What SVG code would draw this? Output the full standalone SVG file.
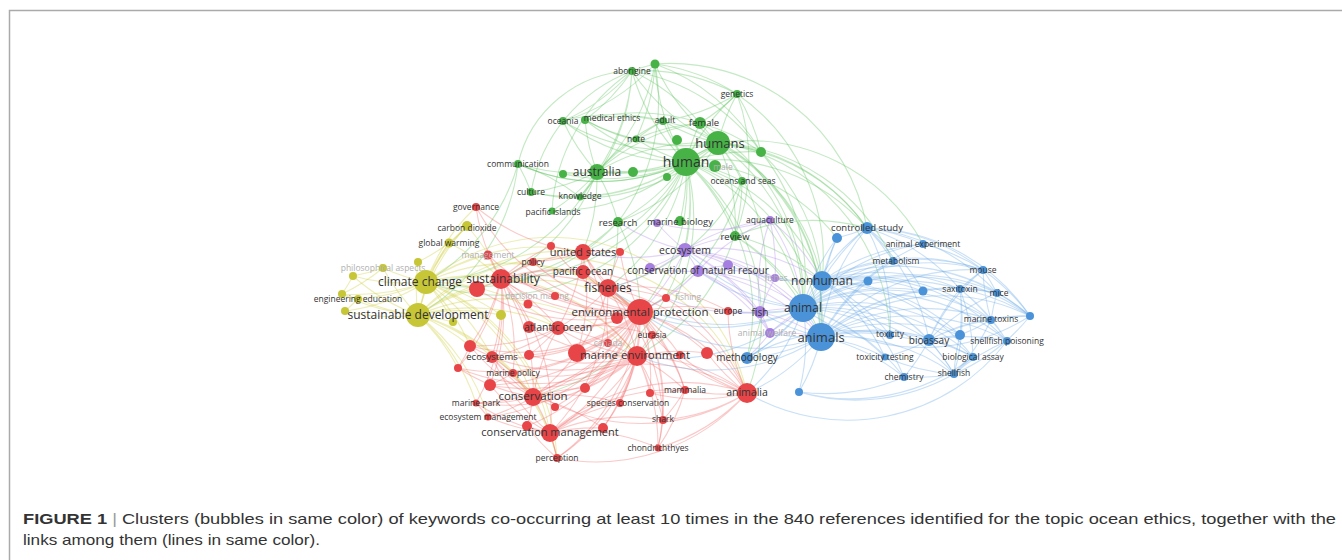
<svg xmlns="http://www.w3.org/2000/svg" width="1342" height="560" viewBox="0 0 1342 560">
<style>
.e path{fill:none;stroke-width:1.1;stroke-opacity:.36}
.eg path{stroke:#5cc25c}.er path{stroke:#f06868}.eb path{stroke:#6aa8e6}.ey path{stroke:#cccc3a}.ep path{stroke:#b08ae8}
.g circle{fill:#47b347}.r circle{fill:#e84548}.b circle{fill:#4b93d8}.y circle{fill:#c6c636}.p circle{fill:#a680e0}
text{font-family:"Open Sans","DejaVu Sans",sans-serif;fill:#333;text-anchor:middle}
.s{font-size:8.5px}.m{font-size:9.5px}.t10{font-size:10px}.t105{font-size:10.5px}.t11{font-size:11px}.t115{font-size:11.5px}.t12{font-size:12px}.t13{font-size:13px}.t14{font-size:14px}
.f{fill:#b0b0b0}
.cap{font-family:"Liberation Sans",Arial,sans-serif;font-size:15px;fill:#333;text-anchor:start}
</style>
<rect width="1342" height="560" fill="#fff"/>
<g id="frame" fill="none" stroke="#aaa" stroke-width="1.5">
<path d="M9.5 560V10.5H1342"/>
</g>
<g id="connectors" class="e">
<g class="eg">
<path d="M686 162A200 200 0 0 1 632 71M686 162A200 200 0 0 1 655 64M686 162A200 200 0 0 1 737 94M686 162A200 200 0 0 1 563 121M686 162A200 200 0 0 1 585 120M686 162A200 200 0 0 1 663 121M686 162A200 200 0 0 1 700 123M686 162A200 200 0 0 1 636 139M686 162A200 200 0 0 1 718 143M686 162A200 200 0 0 1 761 152M686 162A200 200 0 0 1 518 164M686 162A200 200 0 0 1 597 172M686 162A200 200 0 0 1 531 192M686 162A200 200 0 0 1 580 197M686 162A200 200 0 0 1 552 211M686 162A200 200 0 0 1 618 222M686 162A200 200 0 0 1 680 221M686 162A200 200 0 0 1 735 236M686 162A200 200 0 0 1 742 181M686 162A200 200 0 0 1 563 174M686 162A200 200 0 0 1 633 172M686 162A200 200 0 0 1 803 308M686 162A200 200 0 0 1 821 337M686 162A200 200 0 0 1 822 281M686 162A200 200 0 0 1 867 228M686 162A200 200 0 0 1 640 312M686 162A200 200 0 0 1 583 252M686 162A200 200 0 0 1 501 279M686 162A200 200 0 0 1 426 282M686 162A200 200 0 0 1 608 288M686 162A200 200 0 0 1 533 397M686 162A200 200 0 0 1 685 250M686 162A200 200 0 0 1 637 356M686 162A200 200 0 0 1 747 393M686 162A200 200 0 0 1 747 358M686 162A200 200 0 0 1 837 238"/>
<path d="M718 143A200 200 0 0 1 632 71M718 143A200 200 0 0 1 655 64M718 143A200 200 0 0 1 737 94M718 143A200 200 0 0 1 563 121M718 143A200 200 0 0 1 585 120M718 143A200 200 0 0 1 663 121M718 143A200 200 0 0 1 700 123M718 143A200 200 0 0 1 636 139M718 143A200 200 0 0 1 761 152M718 143A200 200 0 0 1 597 172M718 143A200 200 0 0 1 742 181M718 143A200 200 0 0 1 735 236M718 143A200 200 0 0 1 618 222M718 143A200 200 0 0 1 803 308M718 143A200 200 0 0 1 821 337M718 143A200 200 0 0 1 822 281M718 143A200 200 0 0 1 867 228M718 143A200 200 0 0 1 893 261M718 143A200 200 0 0 1 923 244M718 143A200 200 0 0 1 518 164M718 143A200 200 0 0 1 531 192M718 143A200 200 0 0 1 747 358M718 143A200 200 0 0 1 890 335"/>
<path d="M518 164A120 120 0 0 1 632 71M632 71A200 200 0 0 1 597 172M632 71A200 200 0 0 1 563 121M531 192A160 160 0 0 1 632 71M632 71A200 200 0 0 1 655 64M632 71A200 200 0 0 1 737 94M632 71A200 200 0 0 1 700 123M552 211A180 180 0 0 1 632 71M632 71A200 200 0 0 1 580 197M632 71A200 200 0 0 1 761 152M632 71A200 200 0 0 1 585 120M655 64A200 200 0 0 1 867 228M737 94A200 200 0 0 1 822 281"/>
<path d="M655 64A200 200 0 0 1 737 94M655 64A200 200 0 0 1 597 172M655 64A200 200 0 0 1 636 139M655 64A200 200 0 0 1 563 121M655 64A200 200 0 0 1 761 152M655 64A200 200 0 0 1 618 222"/>
<path d="M597 172A200 200 0 0 1 563 121M597 172A200 200 0 0 1 585 120M597 172A200 200 0 0 1 531 192M597 172A200 200 0 0 1 580 197M597 172A200 200 0 0 1 518 164M597 172A200 200 0 0 1 552 211M597 172A200 200 0 0 1 618 222M597 172A200 200 0 0 1 563 174M597 172A200 200 0 0 1 633 172M597 172A200 200 0 0 1 636 139M597 172A200 200 0 0 1 663 121M597 172A200 200 0 0 1 426 282M597 172A200 200 0 0 1 501 279M597 172A200 200 0 0 1 583 252M597 172A200 200 0 0 1 700 123M597 172A200 200 0 0 1 761 152"/>
<path d="M737 94A200 200 0 0 1 700 123M737 94A200 200 0 0 1 663 121M737 94A200 200 0 0 1 761 152M737 94A200 200 0 0 1 735 236M636 139A200 200 0 0 1 663 121M636 139A200 200 0 0 1 700 123M636 139A200 200 0 0 1 585 120M585 120A200 200 0 0 1 700 123M585 120A200 200 0 0 1 663 121M563 121A200 200 0 0 1 663 121"/>
<path d="M735 236A200 200 0 0 1 803 308M735 236A200 200 0 0 1 821 337M735 236A200 200 0 0 1 867 228M735 236A200 200 0 0 1 822 281M618 222A200 200 0 0 1 501 279M618 222A200 200 0 0 1 640 312M618 222A200 200 0 0 1 608 288M618 222A200 200 0 0 1 426 282M518 164A200 200 0 0 1 531 192M518 164A200 200 0 0 1 580 197M518 164A200 200 0 0 1 426 282M518 164A200 200 0 0 1 418 315M761 152A200 200 0 0 1 803 308M761 152A200 200 0 0 1 867 228M761 152A200 200 0 0 1 822 281M700 123A200 200 0 0 1 761 152M700 123A200 200 0 0 1 803 308M663 121A200 200 0 0 1 821 337M742 181A200 200 0 0 1 640 312M742 181A200 200 0 0 1 637 356M742 181A200 200 0 0 1 608 288"/>
</g>
<g class="ey">
<path d="M426 282A200 200 0 0 1 467 226M426 282A200 200 0 0 1 449 243M426 282A200 200 0 0 1 383 268M426 282A200 200 0 0 1 418 262M426 282A200 200 0 0 1 353 276M426 282A200 200 0 0 1 342 294M426 282A200 200 0 0 1 358 299M426 282A200 200 0 0 1 345 311M426 282A200 200 0 0 1 418 315M426 282A200 200 0 0 1 501 315M426 282A200 200 0 0 1 453 322M426 282A200 200 0 0 1 501 279M426 282A200 200 0 0 1 477 289M426 282A200 200 0 0 1 640 312M426 282A200 200 0 0 1 637 356M426 282A200 200 0 0 1 533 397M426 282A200 200 0 0 1 492 357M426 282A200 200 0 0 1 470 346M426 282A200 200 0 0 1 550 433M426 282A200 200 0 0 1 476 207M426 282A200 200 0 0 1 488 255M426 282A200 200 0 0 1 558 328M426 282A200 200 0 0 1 608 288M426 282A200 200 0 0 1 557 458M426 282A200 200 0 0 1 747 393M426 282A200 200 0 0 1 583 252"/>
<path d="M418 315A200 200 0 0 1 467 226M418 315A200 200 0 0 1 449 243M418 315A200 200 0 0 1 383 268M418 315A200 200 0 0 1 418 262M418 315A200 200 0 0 1 353 276M418 315A200 200 0 0 1 342 294M418 315A200 200 0 0 1 358 299M418 315A200 200 0 0 1 345 311M418 315A200 200 0 0 1 501 315M418 315A200 200 0 0 1 453 322M418 315A200 200 0 0 1 501 279M418 315A200 200 0 0 1 477 289M418 315A200 200 0 0 1 640 312M418 315A200 200 0 0 1 637 356M418 315A200 200 0 0 1 533 397M418 315A200 200 0 0 1 492 357M418 315A200 200 0 0 1 470 346M418 315A200 200 0 0 1 550 433M418 315A200 200 0 0 1 476 403M418 315A200 200 0 0 1 488 417M418 315A200 200 0 0 1 458 368M418 315A200 200 0 0 1 558 328M418 315A200 200 0 0 1 583 252M418 315A200 200 0 0 1 747 393M418 315A200 200 0 0 1 557 458"/>
<path d="M467 226A200 200 0 0 1 449 243M449 243A200 200 0 0 1 418 262M383 268A200 200 0 0 1 353 276M342 294A200 200 0 0 1 358 299M358 299A200 200 0 0 1 345 311M353 276A200 200 0 0 1 342 294M383 268A200 200 0 0 1 342 294M467 226A200 200 0 0 1 501 279M449 243A200 200 0 0 1 501 279"/>
</g>
<g class="er">
<path d="M640 312A200 200 0 0 1 501 279M640 312A200 200 0 0 1 477 289M640 312A200 200 0 0 1 583 252M640 312A200 200 0 0 1 620 252M640 312A200 200 0 0 1 583 272M640 312A200 200 0 0 1 608 288M640 312A200 200 0 0 1 666 298M640 312A200 200 0 0 1 617 318M640 312A200 200 0 0 1 728 311M640 312A200 200 0 0 1 558 328M640 312A200 200 0 0 1 529 327M640 312A200 200 0 0 1 652 335M640 312A200 200 0 0 1 608 343M640 312A200 200 0 0 1 470 346M640 312A200 200 0 0 1 492 357M640 312A200 200 0 0 1 529 355M640 312A200 200 0 0 1 637 356M640 312A200 200 0 0 1 577 353M640 312A200 200 0 0 1 680 355M640 312A200 200 0 0 1 707 353M640 312A200 200 0 0 1 458 368M640 312A200 200 0 0 1 513 373M640 312A200 200 0 0 1 490 385M640 312A200 200 0 0 1 533 397M640 312A200 200 0 0 1 585 388M640 312A200 200 0 0 1 620 403M640 312A200 200 0 0 1 555 407M640 312A200 200 0 0 1 476 403M640 312A200 200 0 0 1 488 417M640 312A200 200 0 0 1 527 426M640 312A200 200 0 0 1 550 433M640 312A200 200 0 0 1 603 428M640 312A200 200 0 0 1 557 458M640 312A200 200 0 0 1 685 390M640 312A200 200 0 0 1 650 393M640 312A200 200 0 0 1 747 393M640 312A200 200 0 0 1 663 420M640 312A200 200 0 0 1 658 448M640 312A200 200 0 0 1 476 207M640 312A200 200 0 0 1 488 255M640 312A200 200 0 0 1 533 262M640 312A200 200 0 0 1 528 304M640 312A200 200 0 0 1 555 296M640 312A200 200 0 0 1 551 246"/>
<path d="M501 279A200 200 0 0 1 476 207M501 279A200 200 0 0 1 488 255M501 279A200 200 0 0 1 533 262M501 279A200 200 0 0 1 551 246M501 279A200 200 0 0 1 583 252M501 279A200 200 0 0 1 583 272M501 279A200 200 0 0 1 608 288M501 279A200 200 0 0 1 477 289M501 279A200 200 0 0 1 528 304M501 279A200 200 0 0 1 555 296M501 279A200 200 0 0 1 558 328M501 279A200 200 0 0 1 529 327M501 279A200 200 0 0 1 492 357M501 279A200 200 0 0 1 470 346M501 279A200 200 0 0 1 637 356M501 279A200 200 0 0 1 533 397M501 279A200 200 0 0 1 550 433M501 279A200 200 0 0 1 513 373M501 279A200 200 0 0 1 490 385M501 279A200 200 0 0 1 747 393M501 279A200 200 0 0 1 458 368M501 279A200 200 0 0 1 476 403"/>
<path d="M608 288A200 200 0 0 1 583 252M608 288A200 200 0 0 1 583 272M608 288A200 200 0 0 1 666 298M608 288A200 200 0 0 1 558 328M608 288A200 200 0 0 1 637 356M608 288A200 200 0 0 1 533 397M608 288A200 200 0 0 1 550 433M608 288A200 200 0 0 1 728 311M608 288A200 200 0 0 1 652 335M608 288A200 200 0 0 1 747 393M608 288A200 200 0 0 1 685 390M608 288A200 200 0 0 1 663 420M608 288A200 200 0 0 1 620 252M608 288A200 200 0 0 1 577 353"/>
<path d="M637 356A200 200 0 0 1 558 328M637 356A200 200 0 0 1 529 327M637 356A200 200 0 0 1 492 357M637 356A200 200 0 0 1 529 355M637 356A200 200 0 0 1 577 353M637 356A200 200 0 0 1 652 335M637 356A200 200 0 0 1 608 343M637 356A200 200 0 0 1 533 397M637 356A200 200 0 0 1 550 433M637 356A200 200 0 0 1 513 373M637 356A200 200 0 0 1 490 385M637 356A200 200 0 0 1 620 403M637 356A200 200 0 0 1 685 390M637 356A200 200 0 0 1 747 393M637 356A200 200 0 0 1 663 420M637 356A200 200 0 0 1 658 448M637 356A200 200 0 0 1 557 458M637 356A200 200 0 0 1 585 388M637 356A200 200 0 0 1 680 355M637 356A200 200 0 0 1 707 353M637 356A200 200 0 0 1 458 368M637 356A200 200 0 0 1 476 403M637 356A200 200 0 0 1 650 393M637 356A200 200 0 0 1 603 428"/>
<path d="M533 397A200 200 0 0 1 550 433M533 397A200 200 0 0 1 492 357M533 397A200 200 0 0 1 513 373M533 397A200 200 0 0 1 476 403M533 397A200 200 0 0 1 488 417M533 397A200 200 0 0 1 490 385M533 397A200 200 0 0 1 527 426M533 397A200 200 0 0 1 620 403M533 397A200 200 0 0 1 555 407M533 397A200 200 0 0 1 557 458M533 397A200 200 0 0 1 603 428M533 397A200 200 0 0 1 558 328M533 397A200 200 0 0 1 747 393M533 397A200 200 0 0 1 458 368M533 397A200 200 0 0 1 470 346M533 397A200 200 0 0 1 585 388"/>
<path d="M550 433A200 200 0 0 1 492 357M550 433A200 200 0 0 1 488 417M550 433A200 200 0 0 1 476 403M550 433A200 200 0 0 1 557 458M550 433A200 200 0 0 1 527 426M550 433A200 200 0 0 1 603 428M550 433A200 200 0 0 1 620 403M550 433A200 200 0 0 1 685 390M550 433A200 200 0 0 1 747 393M550 433A200 200 0 0 1 663 420M550 433A200 200 0 0 1 658 448M550 433A200 200 0 0 1 490 385"/>
<path d="M747 393A200 200 0 0 1 685 390M747 393A200 200 0 0 1 663 420M747 393A200 200 0 0 1 658 448M747 393A200 200 0 0 1 650 393M747 393A200 200 0 0 1 728 311M747 393A200 200 0 0 1 652 335M747 393A200 200 0 0 1 707 353M747 393A200 200 0 0 1 680 355M747 393A200 200 0 0 1 557 458M747 393A200 200 0 0 1 492 357"/>
<path d="M583 252A200 200 0 0 1 583 272M583 252A200 200 0 0 1 558 328M583 252A200 200 0 0 1 620 252M583 252A200 200 0 0 1 551 246M583 252A200 200 0 0 1 608 343M583 252A200 200 0 0 1 533 262M583 252A200 200 0 0 1 577 353M583 252A200 200 0 0 1 476 207M558 328A200 200 0 0 1 652 335M558 328A200 200 0 0 1 608 343M558 328A200 200 0 0 1 529 355M558 328A200 200 0 0 1 577 353M558 328A200 200 0 0 1 492 357M558 328A200 200 0 0 1 470 346M685 390A200 200 0 0 1 663 420M685 390A200 200 0 0 1 658 448M685 390A200 200 0 0 1 650 393M663 420A200 200 0 0 1 658 448M492 357A200 200 0 0 1 470 346M492 357A200 200 0 0 1 513 373M470 346A200 200 0 0 1 458 368M513 373A200 200 0 0 1 490 385M476 403A200 200 0 0 1 488 417M557 458A200 200 0 0 1 527 426"/>
</g>
<g class="eb">
<path d="M803 308A200 200 0 0 1 867 228M803 308A200 200 0 0 1 837 238M803 308A200 200 0 0 1 923 244M803 308A200 200 0 0 1 893 261M803 308A200 200 0 0 1 983 270M803 308A200 200 0 0 1 822 281M803 308A200 200 0 0 1 868 281M803 308A200 200 0 0 1 923 291M803 308A200 200 0 0 1 960 289M803 308A200 200 0 0 1 997 293M803 308A200 200 0 0 1 1030 316M803 308A200 200 0 0 1 991 320M803 308A200 200 0 0 1 890 335M803 308A200 200 0 0 1 929 340M803 308A200 200 0 0 1 960 335M803 308A200 200 0 0 1 1007 341M803 308A200 200 0 0 1 821 337M803 308A200 200 0 0 1 885 357M803 308A200 200 0 0 1 973 357M803 308A200 200 0 0 1 904 377M803 308A200 200 0 0 1 954 374M803 308A200 200 0 0 1 747 358M803 308A200 200 0 0 1 799 392M803 308A200 200 0 0 1 760 312M803 308A200 200 0 0 1 728 311M803 308A200 200 0 0 1 698 271M803 308A200 200 0 0 1 685 250M803 308A200 200 0 0 1 747 393M803 308A200 200 0 0 1 637 356M803 308A200 200 0 0 1 640 312M803 308A200 200 0 0 1 608 288"/>
<path d="M821 337A200 200 0 0 1 867 228M821 337A200 200 0 0 1 837 238M821 337A200 200 0 0 1 923 244M821 337A200 200 0 0 1 893 261M821 337A200 200 0 0 1 983 270M821 337A200 200 0 0 1 822 281M821 337A200 200 0 0 1 868 281M821 337A200 200 0 0 1 923 291M821 337A200 200 0 0 1 960 289M821 337A200 200 0 0 1 997 293M821 337A200 200 0 0 1 1030 316M821 337A200 200 0 0 1 991 320M821 337A200 200 0 0 1 890 335M821 337A200 200 0 0 1 929 340M821 337A200 200 0 0 1 960 335M821 337A200 200 0 0 1 1007 341M821 337A200 200 0 0 1 885 357M821 337A200 200 0 0 1 973 357M821 337A200 200 0 0 1 904 377M821 337A200 200 0 0 1 954 374M821 337A200 200 0 0 1 747 358M821 337A200 200 0 0 1 799 392M821 337A200 200 0 0 1 760 312M821 337A200 200 0 0 1 770 333M821 337A200 200 0 0 1 747 393M821 337A200 200 0 0 1 637 356M821 337A200 200 0 0 1 640 312"/>
<path d="M822 281A200 200 0 0 1 867 228M822 281A200 200 0 0 1 837 238M822 281A200 200 0 0 1 923 244M822 281A200 200 0 0 1 893 261M822 281A200 200 0 0 1 983 270M822 281A200 200 0 0 1 868 281M822 281A200 200 0 0 1 923 291M822 281A200 200 0 0 1 960 289M822 281A200 200 0 0 1 997 293M822 281A200 200 0 0 1 1030 316M822 281A200 200 0 0 1 991 320M822 281A200 200 0 0 1 890 335M822 281A200 200 0 0 1 929 340M822 281A200 200 0 0 1 960 335M822 281A200 200 0 0 1 1007 341M822 281A200 200 0 0 1 885 357M822 281A200 200 0 0 1 973 357M822 281A200 200 0 0 1 904 377M822 281A200 200 0 0 1 954 374M822 281A200 200 0 0 1 747 358M822 281A200 200 0 0 1 775 278M822 281A200 200 0 0 1 728 265"/>
<path d="M867 228A200 200 0 0 1 837 238M867 228A200 200 0 0 1 923 244M867 228A200 200 0 0 1 893 261M867 228A200 200 0 0 1 983 270M867 228A200 200 0 0 1 997 293M867 228A200 200 0 0 1 960 289M867 228A200 200 0 0 1 923 291M867 228A200 200 0 0 1 890 335M867 228A200 200 0 0 1 929 340M867 228A200 200 0 0 1 1030 316"/>
<path d="M929 340A200 200 0 0 1 960 289M929 340A200 200 0 0 1 997 293M929 340A200 200 0 0 1 991 320M929 340A200 200 0 0 1 1007 341M929 340A200 200 0 0 1 960 335M929 340A200 200 0 0 1 973 357M929 340A200 200 0 0 1 890 335M929 340A200 200 0 0 1 885 357M929 340A200 200 0 0 1 904 377M929 340A200 200 0 0 1 954 374M929 340A200 200 0 0 1 1030 316M929 340A200 200 0 0 1 983 270"/>
<path d="M960 289A200 200 0 0 1 983 270M960 289A200 200 0 0 1 997 293M960 289A200 200 0 0 1 991 320M960 289A200 200 0 0 1 1007 341M960 289A200 200 0 0 1 960 335M960 289A200 200 0 0 1 973 357M960 289A200 200 0 0 1 954 374M960 289A200 200 0 0 1 1030 316M991 320A200 200 0 0 1 1007 341M991 320A200 200 0 0 1 960 335M991 320A200 200 0 0 1 954 374M991 320A200 200 0 0 1 1030 316M991 320A200 200 0 0 1 997 293M991 320A200 200 0 0 1 983 270M954 374A200 200 0 0 1 1007 341M954 374A200 200 0 0 1 973 357M954 374A200 200 0 0 1 904 377M954 374A200 200 0 0 1 885 357M954 374A200 200 0 0 1 960 335"/>
<path d="M983 270A200 200 0 0 1 997 293M983 270A200 200 0 0 1 1030 316M997 293A200 200 0 0 1 1030 316M923 244A200 200 0 0 1 983 270M893 261A200 200 0 0 1 983 270M954 374A200 200 0 0 1 799 392M904 377A200 200 0 0 1 799 392M973 357A200 200 0 0 1 799 392M747 358A200 200 0 0 1 890 335M1030 316A200 200 0 0 1 954 374M1007 341A200 200 0 0 1 747 393M1030 316A200 200 0 0 1 803 308"/>
</g>
<g class="ep">
<path d="M685 250A200 200 0 0 1 657 223M685 250A200 200 0 0 1 770 220M685 250A200 200 0 0 1 650 268M685 250A200 200 0 0 1 698 271M685 250A200 200 0 0 1 728 265M685 250A200 200 0 0 1 775 278M685 250A200 200 0 0 1 760 312M685 250A200 200 0 0 1 770 333M685 250A200 200 0 0 1 640 312M685 250A200 200 0 0 1 608 288M685 250A200 200 0 0 1 803 308M685 250A200 200 0 0 1 821 337M685 250A200 200 0 0 1 822 281M685 250A200 200 0 0 1 735 236M685 250A200 200 0 0 1 618 222M685 250A200 200 0 0 1 583 252"/>
<path d="M698 271A200 200 0 0 1 650 268M698 271A200 200 0 0 1 728 265M698 271A200 200 0 0 1 760 312M698 271A200 200 0 0 1 775 278M698 271A200 200 0 0 1 770 333M698 271A200 200 0 0 1 640 312M698 271A200 200 0 0 1 803 308M698 271A200 200 0 0 1 821 337M698 271A200 200 0 0 1 770 220M698 271A200 200 0 0 1 666 298M760 312A200 200 0 0 1 775 278M760 312A200 200 0 0 1 770 333M760 312A200 200 0 0 1 803 308M760 312A200 200 0 0 1 821 337M760 312A200 200 0 0 1 770 220M760 312A200 200 0 0 1 666 298M760 312A200 200 0 0 1 728 311M770 220A200 200 0 0 1 775 278M770 220A200 200 0 0 1 803 308M770 220A200 200 0 0 1 822 281M770 220A200 200 0 0 1 657 223M770 333A200 200 0 0 1 803 308M770 333A200 200 0 0 1 821 337M770 333A200 200 0 0 1 747 358"/>
</g>
</g>
<g id="nodes">
<g id="n-aborigine" class="g"><circle cx="632" cy="71" r="4"/><text class="s" x="632" y="74">aborigine</text></g>
<g id="n-g2" class="g"><circle cx="655" cy="64" r="4.5"/></g>
<g id="n-genetics" class="g"><circle cx="737" cy="94" r="4"/><text class="s" x="737" y="97">genetics</text></g>
<g id="n-oceania" class="g"><circle cx="563" cy="121" r="4"/><text class="s" x="563" y="124">oceania</text></g>
<g id="n-medical-ethics" class="g"><circle cx="585" cy="120" r="4"/><text class="s" x="612" y="121">medical ethics</text></g>
<g id="n-adult" class="g"><circle cx="663" cy="121" r="4"/><text class="s" x="665" y="123">adult</text></g>
<g id="n-note" class="g"><circle cx="636" cy="139" r="3.5"/><text class="s" x="636" y="142">note</text></g>
<g id="n-g9" class="g"><circle cx="677" cy="140" r="5"/></g>
<g id="n-g11" class="g"><circle cx="761" cy="152" r="5"/></g>
<g id="n-communication" class="g"><circle cx="518" cy="164" r="4"/><text class="s" x="518" y="167">communication</text></g>
<g id="n-g16" class="g"><circle cx="563" cy="174" r="4"/></g>
<g id="n-g17" class="g"><circle cx="633" cy="172" r="5"/></g>
<g id="n-g18" class="g"><circle cx="667" cy="177" r="4"/></g>
<g id="n-oceans-and-seas" class="g"><circle cx="742" cy="181" r="4"/><text class="s" x="743" y="184">oceans and seas</text></g>
<g id="n-culture" class="g"><circle cx="531" cy="192" r="4"/><text class="s" x="531" y="195">culture</text></g>
<g id="n-knowledge" class="g"><circle cx="580" cy="197" r="3.5"/><text class="s" x="580" y="199">knowledge</text></g>
<g id="n-pacific-islands" class="g"><circle cx="552" cy="211" r="3.5"/><text class="s" x="553" y="215">pacific islands</text></g>
<g id="n-male" class="g"><circle cx="715" cy="166" r="6"/><text class="s f" x="723" y="170">male</text></g>
<g id="n-female" class="g"><circle cx="700" cy="123" r="6"/><text class="m" x="704" y="126">female</text></g>
<g id="n-research" class="g"><circle cx="618" cy="222" r="5"/><text class="m" x="618" y="226">research</text></g>
<g id="n-marine-biology-p" class="p"><circle cx="657" cy="223" r="4"/></g>
<g id="n-marine-biology" class="g"><circle cx="680" cy="221" r="5"/><text class="m" x="680" y="225">marine biology</text></g>
<g id="n-review" class="g"><circle cx="735" cy="236" r="5"/><text class="m" x="735" y="240">review</text></g>
<g id="n-aquaculture" class="p"><circle cx="770" cy="220" r="4"/><text class="s" x="770" y="223">aquaculture</text></g>
<g id="n-carbon-dioxide" class="y"><circle cx="467" cy="226" r="5"/><text class="s" x="467" y="231">carbon dioxide</text></g>
<g id="n-global-warming" class="y"><circle cx="449" cy="243" r="4.5"/><text class="s" x="449" y="246">global warming</text></g>
<g id="n-philosophical-aspects" class="y"><circle cx="383" cy="268" r="4"/><text class="s f" x="383" y="271">philosophical aspects</text></g>
<g id="n-y1" class="y"><circle cx="418" cy="262" r="4"/></g>
<g id="n-y2" class="y"><circle cx="353" cy="276" r="4"/></g>
<g id="n-y3" class="y"><circle cx="342" cy="294" r="4"/></g>
<g id="n-engineering-education" class="y"><circle cx="358" cy="299" r="4"/><text class="s" x="358" y="302">engineering education</text></g>
<g id="n-y4" class="y"><circle cx="345" cy="311" r="4"/></g>
<g id="n-y5" class="y"><circle cx="501" cy="315" r="5"/></g>
<g id="n-y6" class="y"><circle cx="453" cy="322" r="4"/></g>
<g id="n-governance" class="r"><circle cx="476" cy="207" r="4"/><text class="s" x="476" y="210">governance</text></g>
<g id="n-management" class="r"><circle cx="488" cy="255" r="4.5"/><text class="s f" x="488" y="258">management</text></g>
<g id="n-r1" class="r"><circle cx="551" cy="246" r="4"/></g>
<g id="n-policy" class="r"><circle cx="533" cy="262" r="4"/><text class="s" x="533" y="265">policy</text></g>
<g id="n-r2" class="r"><circle cx="477" cy="289" r="8"/></g>
<g id="n-decision-making" class="r"><circle cx="528" cy="304" r="4.5"/><text class="s f" x="537" y="299">decision making</text></g>
<g id="n-r3" class="r"><circle cx="555" cy="296" r="4"/></g>
<g id="n-r4" class="r"><circle cx="620" cy="252" r="4"/></g>
<g id="n-fishing" class="r"><circle cx="666" cy="298" r="4"/><text class="s f" x="688" y="300">fishing</text></g>
<g id="n-r5" class="r"><circle cx="617" cy="318" r="6"/></g>
<g id="n-europe" class="r"><circle cx="728" cy="311" r="4"/><text class="s" x="728" y="314">europe</text></g>
<g id="n-r6" class="r"><circle cx="529" cy="327" r="6"/></g>
<g id="n-eurasia" class="r"><circle cx="652" cy="335" r="4"/><text class="s" x="652" y="338">eurasia</text></g>
<g id="n-canada" class="r"><circle cx="608" cy="343" r="4"/><text class="s f" x="608" y="346">canada</text></g>
<g id="n-r7" class="r"><circle cx="470" cy="346" r="6"/></g>
<g id="n-r8" class="r"><circle cx="529" cy="355" r="5"/></g>
<g id="n-r9" class="r"><circle cx="577" cy="353" r="9"/></g>
<g id="n-r10" class="r"><circle cx="680" cy="355" r="4"/></g>
<g id="n-r11" class="r"><circle cx="707" cy="353" r="6"/></g>
<g id="n-r12" class="r"><circle cx="458" cy="368" r="4"/></g>
<g id="n-r13" class="r"><circle cx="490" cy="385" r="6"/></g>
<g id="n-r14" class="r"><circle cx="585" cy="388" r="5"/></g>
<g id="n-r15" class="r"><circle cx="555" cy="407" r="4"/></g>
<g id="n-r16" class="r"><circle cx="527" cy="426" r="5"/></g>
<g id="n-r17" class="r"><circle cx="603" cy="428" r="5"/></g>
<g id="n-r18" class="r"><circle cx="650" cy="393" r="4"/></g>
<g id="n-ecosystems" class="r"><circle cx="492" cy="357" r="6"/><text class="m" x="492" y="360">ecosystems</text></g>
<g id="n-marine-policy" class="r"><circle cx="513" cy="373" r="4"/><text class="s" x="513" y="376">marine policy</text></g>
<g id="n-species-conservation" class="r"><circle cx="620" cy="403" r="4"/><text class="s" x="628" y="406">species conservation</text></g>
<g id="n-marine-park" class="r"><circle cx="476" cy="403" r="3.5"/><text class="s" x="476" y="406">marine park</text></g>
<g id="n-ecosystem-management" class="r"><circle cx="488" cy="417" r="3.5"/><text class="s" x="488" y="420">ecosystem management</text></g>
<g id="n-perception" class="r"><circle cx="557" cy="458" r="4"/><text class="s" x="557" y="461">perception</text></g>
<g id="n-mammalia" class="r"><circle cx="685" cy="390" r="4"/><text class="s" x="685" y="393">mammalia</text></g>
<g id="n-shark" class="r"><circle cx="663" cy="420" r="4"/><text class="s" x="663" y="422">shark</text></g>
<g id="n-chondrichthyes" class="r"><circle cx="658" cy="448" r="3.5"/><text class="s" x="658" y="451">chondrichthyes</text></g>
<g id="n-conservation-of-natural-resources" class="p"><circle cx="650" cy="268" r="5"/><circle cx="728" cy="265" r="5"/><circle cx="698" cy="271" r="6"/><text class="t10" x="698" y="274">conservation of natural resour</text></g>
<g id="n-fishes" class="p"><circle cx="775" cy="278" r="4"/><text class="s f" x="776" y="281">fishes</text></g>
<g id="n-fish" class="p"><circle cx="760" cy="312" r="6"/><text class="t10" x="760" y="316">fish</text></g>
<g id="n-animal-welfare" class="p"><circle cx="770" cy="333" r="5"/><text class="s f" x="767" y="336">animal welfare</text></g>
<g id="n-ecosystem" class="p"><circle cx="685" cy="250" r="7"/><text class="t105" x="685" y="254">ecosystem</text></g>
<g id="n-b1" class="b"><circle cx="837" cy="238" r="5"/></g>
<g id="n-controlled-study" class="b"><circle cx="867" cy="228" r="6"/><text class="m" x="867" y="231">controlled study</text></g>
<g id="n-animal-experiment" class="b"><circle cx="923" cy="244" r="4"/><text class="s" x="923" y="247">animal experiment</text></g>
<g id="n-metabolism" class="b"><circle cx="893" cy="261" r="4"/><text class="s" x="896" y="264">metabolism</text></g>
<g id="n-mouse" class="b"><circle cx="983" cy="270" r="4"/><text class="s" x="983" y="273">mouse</text></g>
<g id="n-b2" class="b"><circle cx="868" cy="281" r="4.5"/></g>
<g id="n-b3" class="b"><circle cx="923" cy="291" r="4.5"/></g>
<g id="n-saxitoxin" class="b"><circle cx="960" cy="289" r="4"/><text class="s" x="960" y="292">saxitoxin</text></g>
<g id="n-mice" class="b"><circle cx="997" cy="293" r="4"/><text class="s" x="999" y="296">mice</text></g>
<g id="n-b4" class="b"><circle cx="1030" cy="316" r="4"/></g>
<g id="n-marine-toxins" class="b"><circle cx="991" cy="320" r="4"/><text class="s" x="991" y="322">marine toxins</text></g>
<g id="n-toxicity" class="b"><circle cx="890" cy="335" r="4"/><text class="s" x="890" y="337">toxicity</text></g>
<g id="n-b5" class="b"><circle cx="960" cy="335" r="5"/></g>
<g id="n-bioassay" class="b"><circle cx="929" cy="340" r="6"/><text class="t10" x="929" y="344">bioassay</text></g>
<g id="n-shellfish-poisoning" class="b"><circle cx="1007" cy="341" r="4"/><text class="s" x="1007" y="344">shellfish poisoning</text></g>
<g id="n-toxicity-testing" class="b"><circle cx="885" cy="357" r="3.5"/><text class="s" x="885" y="360">toxicity testing</text></g>
<g id="n-biological-assay" class="b"><circle cx="973" cy="357" r="4"/><text class="s" x="973" y="360">biological assay</text></g>
<g id="n-chemistry" class="b"><circle cx="904" cy="377" r="4"/><text class="s" x="904" y="380">chemistry</text></g>
<g id="n-shellfish" class="b"><circle cx="954" cy="374" r="4"/><text class="s" x="954" y="376">shellfish</text></g>
<g id="n-b6" class="b"><circle cx="799" cy="392" r="4"/></g>
<g id="n-methodology" class="b"><circle cx="747" cy="358" r="6"/><text class="t10" x="747" y="361">methodology</text></g>
<g id="n-pacific-ocean" class="r"><circle cx="583" cy="272" r="7"/><text class="t10" x="583" y="275">pacific ocean</text></g>
<g id="n-united-states" class="r"><circle cx="583" cy="252" r="8"/><text class="t11" x="583" y="256">united states</text></g>
<g id="n-atlantic-ocean" class="r"><circle cx="558" cy="328" r="7"/><text class="t105" x="558" y="331">atlantic ocean</text></g>
<g id="n-animalia" class="r"><circle cx="747" cy="393" r="10"/><text class="t105" x="747" y="396">animalia</text></g>
<g id="n-conservation" class="r"><circle cx="533" cy="397" r="9"/><text class="t115" x="533" y="400">conservation</text></g>
<g id="n-conservation-management" class="r"><circle cx="550" cy="433" r="9"/><text class="t11" x="550" y="436">conservation management</text></g>
<g id="n-marine-environment" class="r"><circle cx="637" cy="356" r="10"/><text class="t115" x="635" y="359">marine environment</text></g>
<g id="n-fisheries" class="r"><circle cx="608" cy="288" r="9"/><text class="t12" x="608" y="292">fisheries</text></g>
<g id="n-sustainability" class="r"><circle cx="501" cy="279" r="10"/><text class="t12" x="503" y="283">sustainability</text></g>
<g id="n-environmental-protection" class="r"><circle cx="640" cy="312" r="13"/><text class="t115" x="640" y="316">environmental protection</text></g>
<g id="n-climate-change" class="y"><circle cx="426" cy="282" r="12"/><text class="t12" x="420" y="286">climate change</text></g>
<g id="n-sustainable-development" class="y"><circle cx="418" cy="315" r="12"/><text class="t12" x="418" y="319">sustainable development</text></g>
<g id="n-australia" class="g"><circle cx="597" cy="172" r="8"/><text class="t12" x="597" y="176">australia</text></g>
<g id="n-humans" class="g"><circle cx="718" cy="143" r="12"/><text class="t13" x="720" y="148">humans</text></g>
<g id="n-human" class="g"><circle cx="686" cy="162" r="14"/><text class="t14" x="686" y="167">human</text></g>
<g id="n-nonhuman" class="b"><circle cx="822" cy="281" r="10"/><text class="t12" x="822" y="285">nonhuman</text></g>
<g id="n-animal" class="b"><circle cx="803" cy="308" r="14"/><text class="t12" x="803" y="312">animal</text></g>
<g id="n-animals" class="b"><circle cx="821" cy="337" r="14"/><text class="t13" x="821" y="342">animals</text></g>
</g>
<g id="caption">
<text class="cap" x="23" y="524" textLength="1313" lengthAdjust="spacingAndGlyphs"><tspan font-weight="bold">FIGURE 1</tspan><tspan fill="#999"> | </tspan>Clusters (bubbles in same color) of keywords co-occurring at least 10 times in the 840 references identified for the topic ocean ethics, together with the</text>
<text class="cap" x="23" y="545" textLength="297" lengthAdjust="spacingAndGlyphs">links among them (lines in same color).</text>
</g>
</svg>
